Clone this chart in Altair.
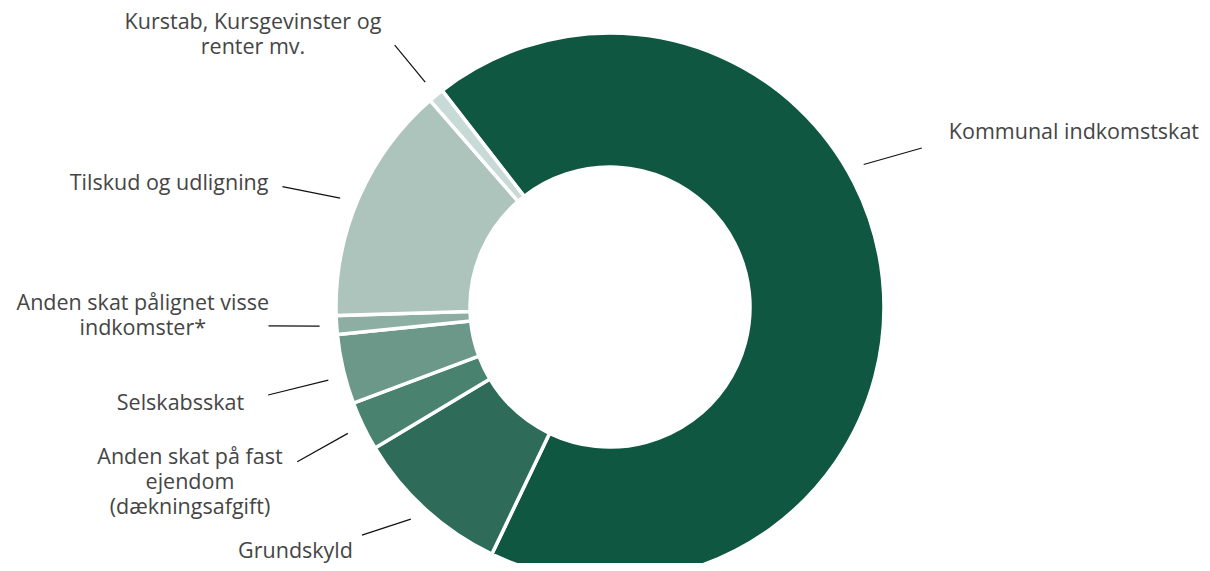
import altair as alt
import pandas as pd

# ---------------- data ----------------
categories = [
    "Kommunal indkomstskat",
    "Grundskyld",
    "Anden skat på fast ejendom (dækningsafgift)",
    "Selskabsskat",
    "Anden skat pålignet visse indkomster*",
    "Tilskud og udligning",
    "Kurstab, Kursgevinster og renter mv.",
]
shares = [67.6, 9.3, 2.9, 4.1, 1.1, 14.1, 0.9]
labels = [
    "Kommunal indkomstskat",
    "Grundskyld",
    "Anden skat på fast\nejendom\n(dækningsafgift)",
    "Selskabsskat",
    "Anden skat pålignet visse\nindkomster*",
    "Tilskud og udligning",
    "Kurstab, Kursgevinster og\nrenter mv.",
]
palette = ["#0F5741", "#2E6B58", "#4A8270", "#6B9889", "#8DAFA3", "#ACC4BB", "#C8DAD5"]

# ---------------- layout / style ----------------
W, H = 1194, 555
CX, CY = 602, 299
R_OUT, R_IN = 274, 140
START_DEG = -37.8
R1 = 291
FONT = "Open Sans"
FONT_SIZE = 21.5
LINE_H = 25
CHAR_W = 10.7
TEXT_COLOR = "#454545"
# per-label leader layout: (start angle shift, end angle shift, end radius, text dx, text dy)
leader = {
    "Kommunal indkomstskat": (-23.2, -20.9, 350, 27, -15),
    "Grundskyld": (0.9, 5.1, 337, -9, 17),
    "Anden skat på fast ejendom (dækningsafgift)": (0, -0.6, 349, -11, 21),
    "Selskabsskat": (-1.4, -1.3, 353, -24, 9),
    "Anden skat pålignet visse indkomster*": (0, 0.6, 342, 8, -9),
    "Tilskud og udligning": (-1.6, -3.4, 349, -14, -3),
    "Kurstab, Kursgevinster og renter mv.": (0, 0, 339, -8, -10),
}

df = pd.DataFrame({
    "name": categories,
    "value": shares,
    "label": labels,
    "idx": list(range(len(categories))),
})
df["s1"] = [leader[c][0] for c in categories]
df["s2"] = [leader[c][1] for c in categories]
df["r2"] = [leader[c][2] for c in categories]
df["tdx"] = [leader[c][3] for c in categories]
df["tdy"] = [leader[c][4] for c in categories]
df["hw"] = [max(len(l) for l in s.split("\n")) * CHAR_W / 2 for s in labels]
df["nl"] = [len(s.split("\n")) for s in labels]

D2R = "PI/180"
base = alt.Chart(df).transform_joinaggregate(
    total="sum(value)"
).transform_window(
    cum="sum(value)", sort=[alt.SortField("idx", order="ascending")],
    frame=[None, 0]
).transform_calculate(
    a1=f"({START_DEG} + 360*datum.cum/datum.total)*{D2R}",
).transform_calculate(
    a0=f"datum.a1 - 360*datum.value/datum.total*{D2R}",
).transform_calculate(
    am="(datum.a0 + datum.a1)/2",
).transform_calculate(
    ls=f"datum.am + datum.s1*{D2R}",
    le=f"datum.am + datum.s2*{D2R}",
).transform_calculate(
    x1=f"{CX} + {R1}*sin(datum.ls)",
    y1=f"{CY} - {R1}*cos(datum.ls)",
    x2=f"{CX} + datum.r2*sin(datum.le)",
    y2=f"{CY} - datum.r2*cos(datum.le)",
    side="sin(datum.le) >= 0 ? 1 : -1",
).transform_calculate(
    tx="datum.x2 + datum.tdx + (datum.nl > 1 ? datum.side*datum.hw : 0)",
    ty=f"datum.y2 + datum.tdy - (datum.nl - 1)*{LINE_H}/2",
)

arcs = base.mark_arc(
    innerRadius=R_IN, outerRadius=R_OUT, stroke="white", strokeWidth=3.5
).encode(
    theta=alt.Theta("a0:Q", scale=None),
    theta2=alt.Theta2("a1:Q"),
    x=alt.value(CX),
    y=alt.value(CY),
    color=alt.Color("name:N", scale=alt.Scale(domain=categories, range=palette), legend=None),
)

lines = base.mark_rule(color="#111111", strokeWidth=1.2).encode(
    x=alt.X("x1:Q", scale=None),
    y=alt.Y("y1:Q", scale=None),
    x2=alt.X2("x2:Q"),
    y2=alt.Y2("y2:Q"),
)

text_style = dict(font=FONT, fontSize=FONT_SIZE, color=TEXT_COLOR,
                  baseline="middle", lineBreak="\n", lineHeight=LINE_H)
text_enc = dict(x=alt.X("tx:Q", scale=None), y=alt.Y("ty:Q", scale=None), text="label:N")

texts_multi = base.transform_filter("datum.nl > 1").mark_text(
    align="center", **text_style).encode(**text_enc)
texts_right = base.transform_filter("datum.nl == 1 && datum.side > 0").mark_text(
    align="left", **text_style).encode(**text_enc)
texts_left = base.transform_filter("datum.nl == 1 && datum.side < 0").mark_text(
    align="right", **text_style).encode(**text_enc)

chart = alt.layer(arcs, lines, texts_multi, texts_right, texts_left).properties(
    width=W, height=H, padding=0,
    autosize=alt.AutoSizeParams(type="none"),
).configure_view(stroke=None)

chart.save("out.html", embed_options={"renderer": "svg", "actions": False})
